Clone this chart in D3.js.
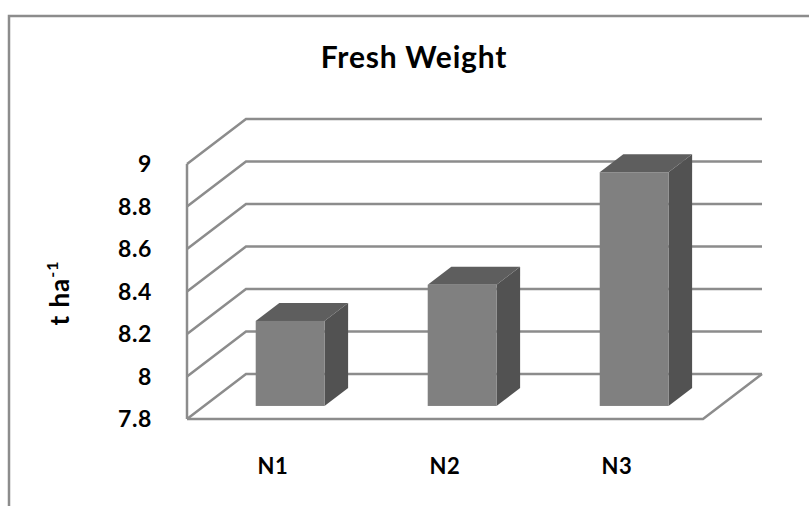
<!DOCTYPE html>
<html>
<head>
<meta charset="utf-8">
<script src="https://cdn.jsdelivr.net/npm/d3@7"></script>
<style>
  html, body { margin: 0; padding: 0; background: #fff; }
  svg { display: block; }
  text { font-family: Lato, "Open Sans", sans-serif; font-weight: bold; fill: #000; }
</style>
</head>
<body>
<svg id="chart" width="809" height="506"></svg>
<script>
// Chart data
const categories = ["N1", "N2", "N3"];
const freshWeight = [8.2, 8.37, 8.9];
const yTicks = [7.8, 8, 8.2, 8.4, 8.6, 8.8, 9];
const titleText = "Fresh Weight";

const svg = d3.select("#chart");
const W = 809, H = 506;

// Front plane of the 3D plot box
const x0 = 187, x1 = 703;
const yFront = d3.scaleLinear().domain([7.8, 9]).range([419, 164]);
// Depth offsets (0 = front edge, 1 = back wall)
const depthX = d3.scaleLinear().domain([0, 1]).range([0, 59]);
const depthY = d3.scaleLinear().domain([0, 1]).range([0, -45]);

const xBand = d3.scaleBand().domain(categories).range([x0, x1])
  .paddingInner(0.6).paddingOuter(0.3);

const gridColor = "#8c8c8c";

// Chart area border (left and top edges visible)
svg.append("path")
  .attr("d", `M9,${H} L9,16 L${W},16`)
  .attr("fill", "none").attr("stroke", gridColor).attr("stroke-width", 2.5);

// Title
svg.append("text")
  .attr("x", 414).attr("y", 68)
  .attr("text-anchor", "middle")
  .attr("font-size", 30)
  .attr("letter-spacing", 0.8)
  .text(titleText);

const plot = svg.append("g");
const line = d3.line();

// Gridlines: diagonal on side wall, horizontal on back wall
yTicks.forEach(v => {
  const yf = yFront(v);
  const pts = [
    [x0, yf],
    [x0 + depthX(1), yf + depthY(1)],
    [x1 + depthX(1), yf + depthY(1)]
  ];
  plot.append("path").attr("d", line(pts))
    .attr("fill", "none").attr("stroke", gridColor).attr("stroke-width", 2.5);
});

// Side wall front edge
plot.append("path")
  .attr("d", line([[x0, yFront(9)], [x0, yFront(7.8)]]))
  .attr("stroke", gridColor).attr("stroke-width", 2.5);

// Floor front and right edges
plot.append("path")
  .attr("d", line([[x0, yFront(7.8)], [x1, yFront(7.8)], [x1 + depthX(1), yFront(7.8) + depthY(1)]]))
  .attr("fill", "none").attr("stroke", gridColor).attr("stroke-width", 2.5);

// Y tick labels
svg.selectAll(".ytick").data(yTicks).join("text")
  .attr("class", "ytick")
  .attr("x", 152).attr("y", d => yFront(d))
  .attr("dy", "0.36em")
  .attr("text-anchor", "end")
  .attr("font-size", 23)
  .attr("letter-spacing", 0.6)
  .text(d => d3.format("")(d));

// Y axis title with superscript
const yt = svg.append("text")
  .attr("transform", "translate(69,293) rotate(-90)")
  .attr("text-anchor", "middle")
  .attr("font-size", 26)
  .attr("letter-spacing", 1);
yt.append("tspan").text("t ha");
yt.append("tspan").attr("font-size", 16).attr("dy", -11).text("-1");

// X category labels
svg.selectAll(".xlab").data(categories).join("text")
  .attr("class", "xlab")
  .attr("x", d => xBand(d) + xBand.bandwidth() / 2)
  .attr("y", 474)
  .attr("text-anchor", "middle")
  .attr("font-size", 22)
  .attr("letter-spacing", 0.6)
  .text(d => d);

// 3D bars
const fFront = 0.29, fBack = 0.69;
const bars = plot.selectAll(".bar").data(categories.map((c, i) => ({ c, v: freshWeight[i] })))
  .join("g").attr("class", "bar");

bars.each(function(d) {
  const g = d3.select(this);
  const bx = xBand(d.c), bw = xBand.bandwidth();
  const fx = depthX(fFront), fy = depthY(fFront);
  const bdx = depthX(fBack) - fx, bdy = depthY(fBack) - fy;
  const L = bx + fx, R = bx + bw + fx;
  const T = yFront(d.v) + fy, B = yFront(7.8) + fy;
  // right side face
  g.append("path").attr("d", line([[R, T], [R + bdx, T + bdy], [R + bdx, B + bdy], [R, B]]) + "Z")
    .attr("fill", "#525252");
  // top face
  g.append("path").attr("d", line([[L, T], [L + bdx, T + bdy], [R + bdx, T + bdy], [R, T]]) + "Z")
    .attr("fill", "#5e5e5e");
  // front face
  g.append("rect").attr("x", L).attr("y", T).attr("width", bw).attr("height", B - T)
    .attr("fill", "#808080");
});
</script>
</body>
</html>
